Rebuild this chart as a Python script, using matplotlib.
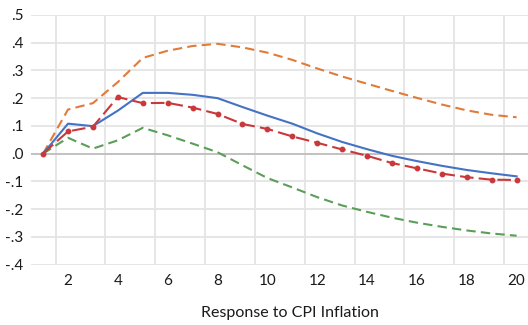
import matplotlib
matplotlib.use("Agg")
import matplotlib.pyplot as plt
import numpy as np

periods = list(range(1, 21))

point_est = [0.0, 0.108, 0.099, 0.155, 0.219, 0.219, 0.212, 0.200, 0.168, 0.137,
             0.108, 0.073, 0.042, 0.016, -0.008, -0.027, -0.044, -0.059, -0.071, -0.082]
upper_band = [0.0, 0.159, 0.182, 0.258, 0.345, 0.371, 0.388, 0.396, 0.383, 0.364,
              0.338, 0.307, 0.278, 0.252, 0.226, 0.201, 0.177, 0.156, 0.140, 0.131]
lower_band = [0.0, 0.057, 0.018, 0.048, 0.093, 0.066, 0.036, 0.005, -0.042, -0.088,
              -0.122, -0.157, -0.187, -0.210, -0.231, -0.249, -0.264, -0.277, -0.288, -0.296]
alt_est = [0.0, 0.080, 0.097, 0.204, 0.182, 0.183, 0.166, 0.143, 0.107, 0.089,
           0.062, 0.039, 0.015, -0.008, -0.034, -0.053, -0.072, -0.085, -0.094, -0.095]

y_ticks = [0.5, 0.4, 0.3, 0.2, 0.1, 0.0, -0.1, -0.2, -0.3, -0.4]
x_labels = [2, 4, 6, 8, 10, 12, 14, 16, 18, 20]

plt.rcParams['font.family'] = ['Lato', 'DejaVu Sans']

fig = plt.figure(figsize=(5.28, 3.25), dpi=100)
ax = fig.add_axes([0.058, 0.186, 0.944, 0.768])

ax.plot(periods, upper_band, color="#E07B39", lw=1.5, dashes=(4.5, 2.5), zorder=3)
ax.plot(periods, lower_band, color="#5B9E58", lw=1.5, dashes=(4.5, 2.5), zorder=3)
ax.plot(periods, point_est, color="#4472C4", lw=1.5, zorder=4)
ax.plot(periods, alt_est, color="#C9383A", lw=1.5, dashes=(6.5, 2.5),
        marker="o", markersize=3.2, zorder=5)

ax.set_xlim(0.5, 20.5)
ax.set_ylim(-0.4, 0.5)

ax.set_yticks(y_ticks)
ax.set_yticklabels([("%.1f" % v).replace("0.", ".") for v in y_ticks])
ax.set_xticks(x_labels)
ax.set_xticklabels([str(v) for v in x_labels])
ax.set_xticks(np.arange(1.5, 20.5, 2), minor=True)

ax.tick_params(axis="both", which="both", length=0, labelsize=11, colors="#1a1a1a")
ax.tick_params(axis="x", pad=7)
ax.tick_params(axis="y", pad=5)

ax.grid(True, axis="y", color="#E4E4E4", lw=1.3)
ax.grid(True, axis="x", which="minor", color="#E4E4E4", lw=1.3)
ax.grid(False, axis="x", which="major")
ax.axhline(0, color="#BFBFBF", lw=1.3, zorder=2)
ax.set_axisbelow(True)

for s in ax.spines.values():
    s.set_visible(False)

fig.text(0.549, 1 - 313 / 325, "Response to CPI Inflation", ha="center", va="center",
         fontsize=11.5, color="#1a1a1a")

fig.savefig("out.png", dpi=100)
